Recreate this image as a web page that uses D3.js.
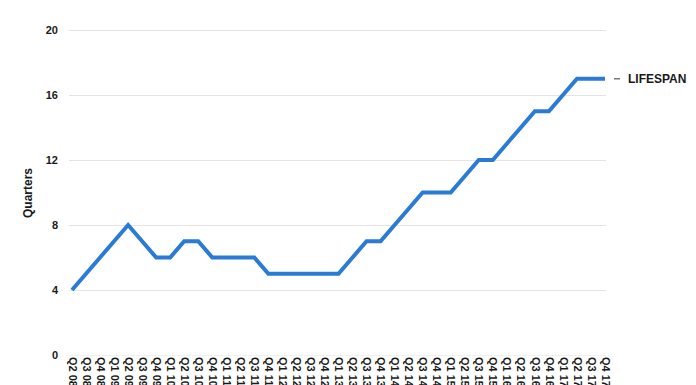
<!DOCTYPE html>
<html>
<head>
<meta charset="utf-8">
<script src="https://cdn.jsdelivr.net/npm/d3@7"></script>
<style>
  html, body { margin: 0; padding: 0; background: #fff; }
  svg { display: block; }
  text { font-family: "Liberation Sans", Arial, Helvetica, sans-serif; }
</style>
</head>
<body>
<svg id="chart" width="696" height="385"></svg>
<script>
const quarters = ["Q2 08","Q3 08","Q4 08","Q1 09","Q2 09","Q3 09","Q4 09","Q1 10","Q2 10","Q3 10","Q4 10",
  "Q1 11","Q2 11","Q3 11","Q4 11","Q1 12","Q2 12","Q3 12","Q4 12","Q1 13","Q2 13","Q3 13","Q4 13",
  "Q1 14","Q2 14","Q3 14","Q4 14","Q1 15","Q2 15","Q3 15","Q4 15","Q1 16","Q2 16","Q3 16","Q4 16",
  "Q1 17","Q2 17","Q3 17","Q4 17"];
const lifespan = [4,5,6,7,8,7,6,6,7,7,6,6,6,6,5,5,5,5,5,5,6,7,7,8,9,10,10,10,11,12,12,13,14,15,15,16,17,17,17];
const yTicks = [0,4,8,12,16,20];
const seriesName = "LIFESPAN";
const yTitle = "Quarters";

(function () {
const svg = d3.select("#chart");
const mLeft = 72, mRight = 605, mTop = 30, mBottom = 355;

const x = d3.scalePoint().domain(quarters).range([mLeft, mRight]);
const y = d3.scaleLinear().domain([0, 20]).range([mBottom, mTop]);

// gridlines
const yAxis = d3.axisLeft(y).tickValues(yTicks).tickSize(-(mRight - mLeft + 4)).tickPadding(11);
const gy = svg.append("g").attr("transform", `translate(${mLeft - 3},0)`).call(yAxis);
gy.select(".domain").remove();
gy.selectAll(".tick line").attr("stroke", "#e4e4e4").attr("stroke-width", 1);
gy.selectAll(".tick text").attr("fill", "#1a1a1a").attr("font-size", 11).attr("font-weight", "bold");
gy.selectAll(".tick").filter(d => d === 0).select("line").attr("stroke", "#f0f0f0");

// x axis labels (cut off by the bottom edge, as in the reference)
const xAxis = d3.axisBottom(x).tickSize(0).tickPadding(0);
const gx = svg.append("g").attr("transform", `translate(0,${mBottom})`).call(xAxis);
gx.select(".domain").remove();
gx.selectAll(".tick text")
  .attr("font-size", 11).attr("font-weight", "bold").attr("fill", "#1a1a1a")
  .attr("text-anchor", "start")
  .attr("transform", "rotate(90)")
  .attr("x", 2).attr("y", 0).attr("dy", "0.35em");

// axis title
svg.append("text")
  .attr("transform", `translate(32,193) rotate(-90)`)
  .attr("text-anchor", "middle")
  .attr("font-size", 12).attr("font-weight", "bold").attr("fill", "#1a1a1a")
  .text(yTitle);

// line
const line = d3.line().x((d, i) => x(quarters[i])).y(d => y(d));
svg.append("path").datum(lifespan)
  .attr("d", line)
  .attr("fill", "none")
  .attr("stroke", "#2a7bd6")
  .attr("stroke-width", 4)
  .attr("stroke-linejoin", "miter");

// legend
const ly = y(lifespan[lifespan.length - 1]);
svg.append("line").attr("x1", 614).attr("x2", 620).attr("y1", ly).attr("y2", ly)
  .attr("stroke", "#777").attr("stroke-width", 1.5);
svg.append("text").attr("x", 628).attr("y", ly).attr("dy", "0.35em")
  .attr("font-size", 12).attr("font-weight", "bold").attr("fill", "#1a1a1a")
  .text(seriesName);
})();
</script>
</body>
</html>
